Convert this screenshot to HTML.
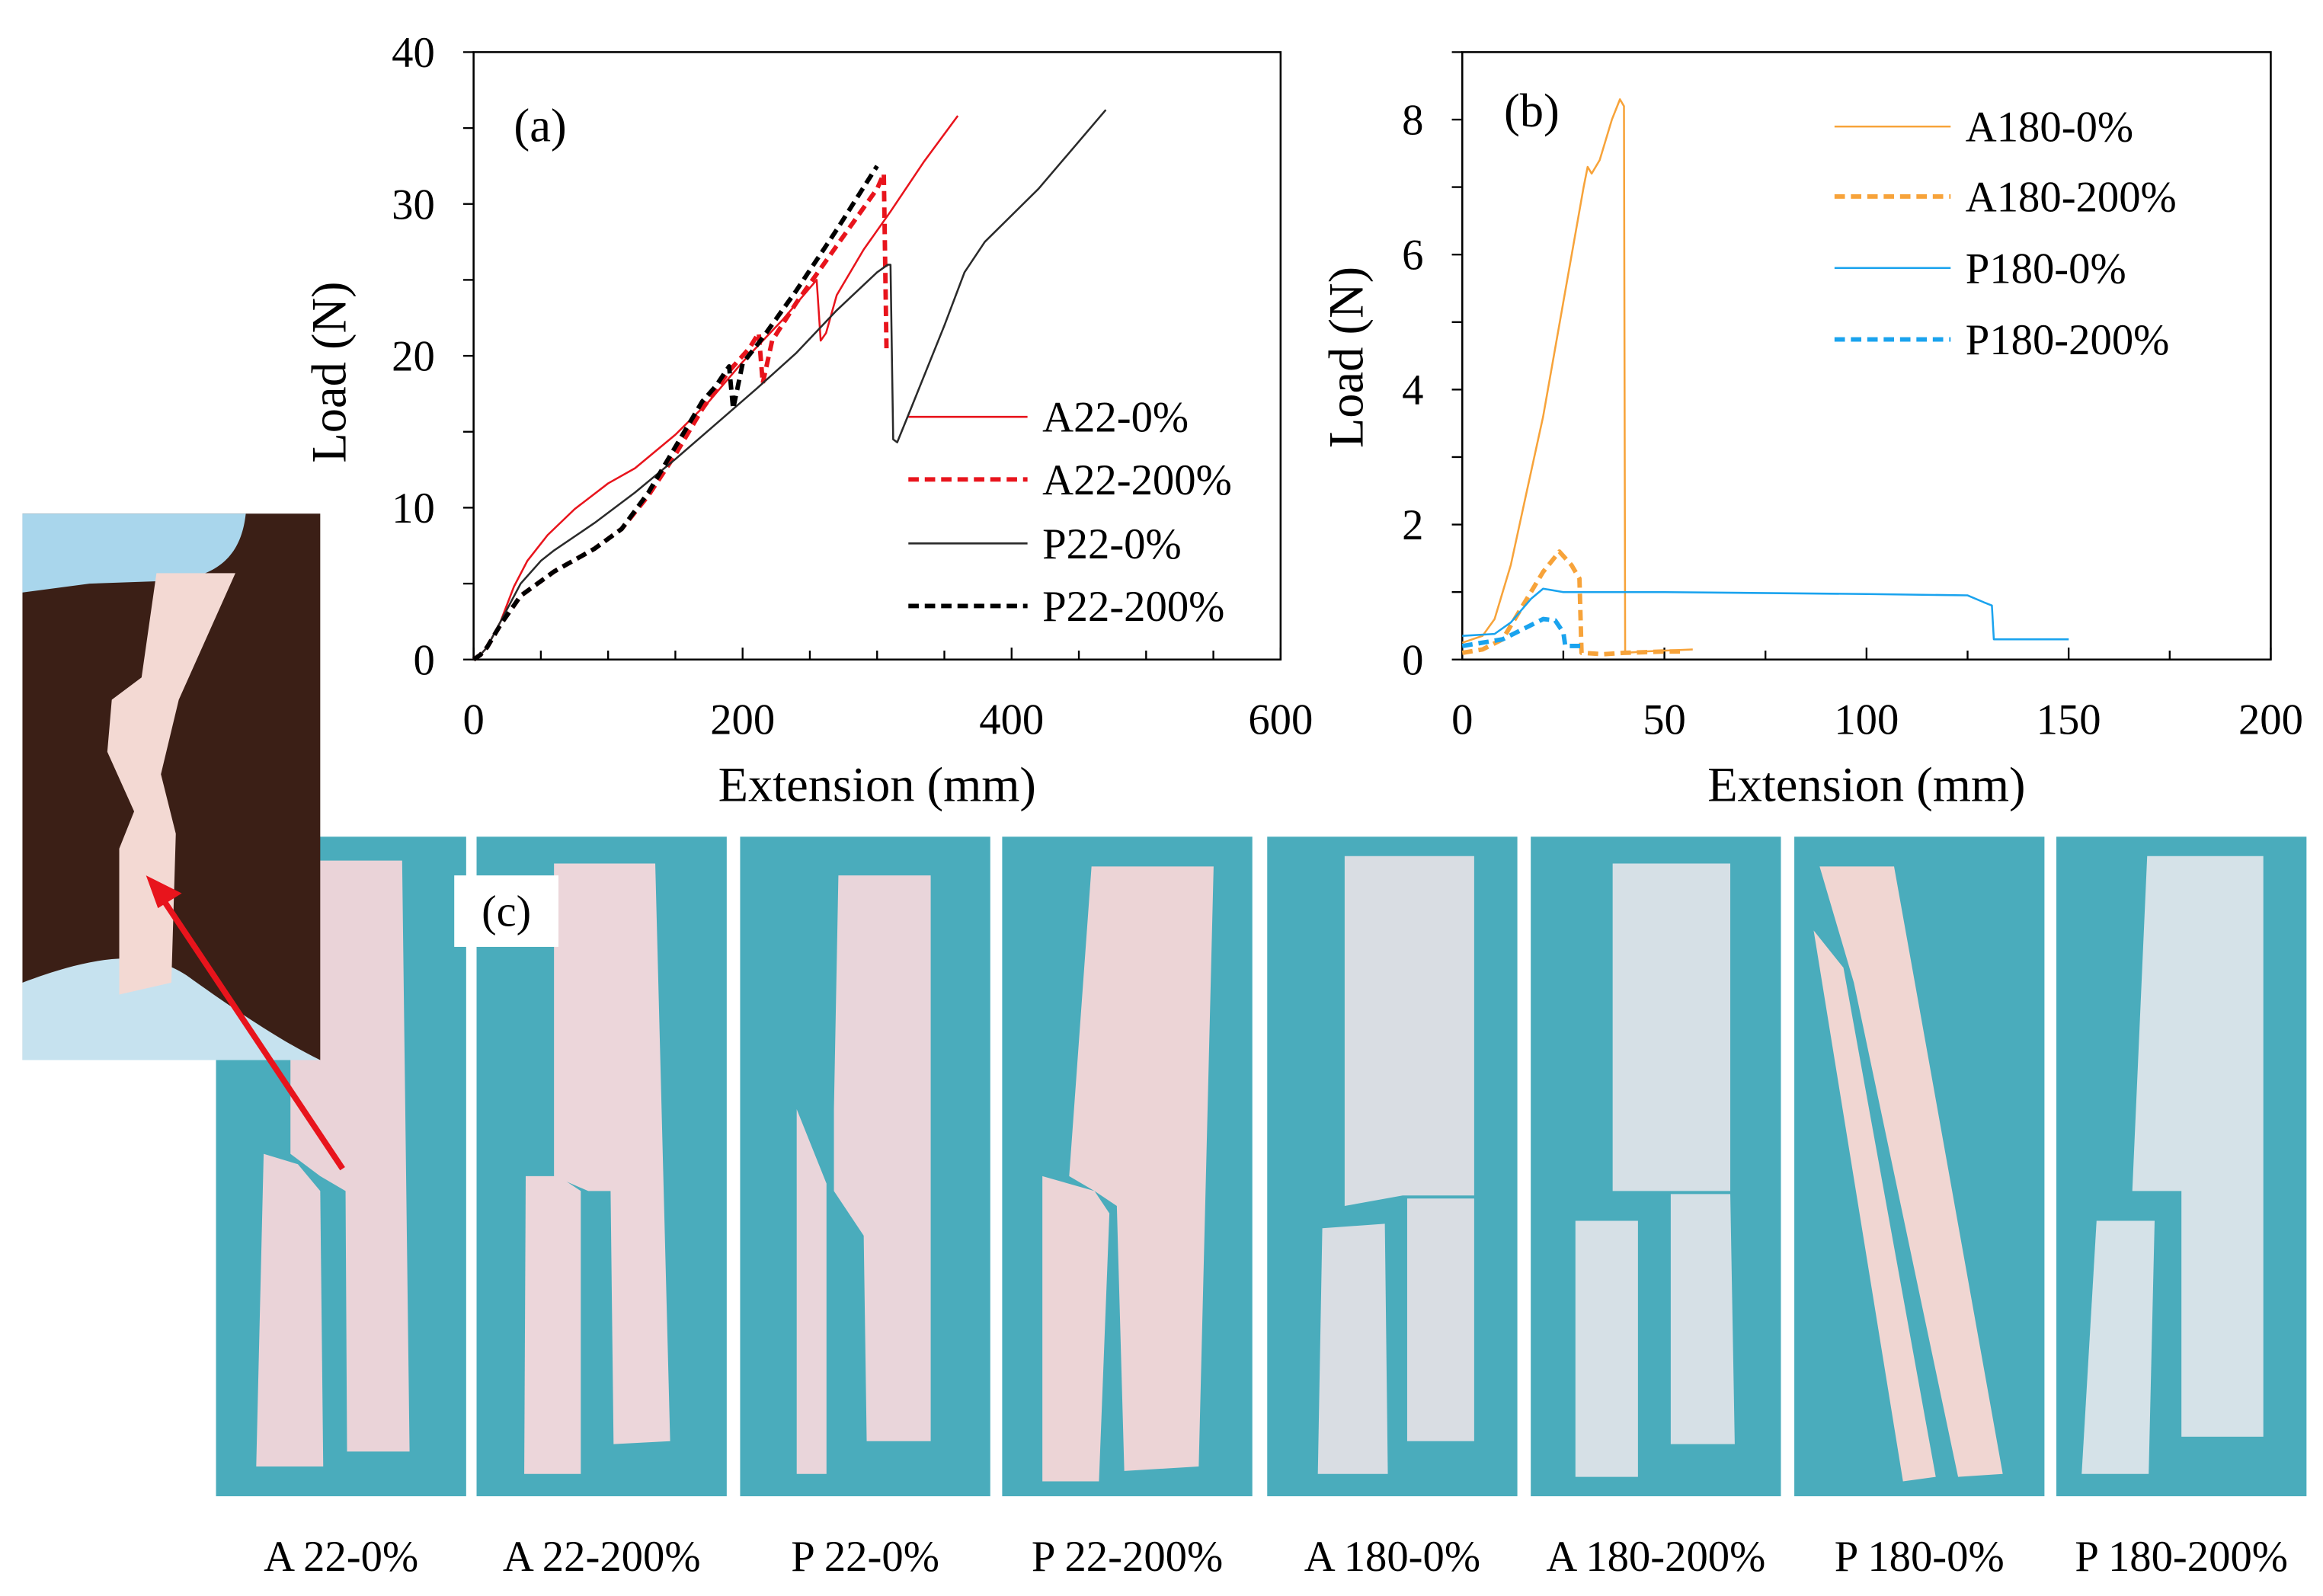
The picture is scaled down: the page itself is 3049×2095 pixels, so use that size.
<!DOCTYPE html>
<html><head><meta charset="utf-8"><style>
html,body{margin:0;padding:0;background:#fff;}
svg{display:block;}
text{font-family:"Liberation Serif","Times New Roman",serif;fill:#000;}
</style></head><body>
<svg id="fig" width="3049" height="2095" viewBox="0 0 1560 1072" font-family="Liberation Serif, serif" xmlns="http://www.w3.org/2000/svg">
<!-- panels -->
<g id="panels"></g>
<!-- inset photo -->
<g>
<rect x="15" y="345" width="200" height="367" fill="#3b1f16"/>
<path d="M15,345 L165,345 C162,372 148,386 118,390 L60,392 L15,398 Z" fill="#a9d6ec"/>
<path d="M15,660 C55,645 95,635 125,655 C160,680 190,700 215,712 L15,712 Z" fill="#c6e2ef"/>
<polygon points="105,385 158,385 120,470 108,520 118,560 115,660 80,668 80,570 90,545 72,505 75,470 95,455" fill="#f3d9d3"/>
</g>
<!-- arrow -->
<g>
<line x1="230" y1="785" x2="108" y2="602" stroke="#e8141c" stroke-width="4"/>
<polygon points="98,588 122,600 106,610" fill="#e8141c"/>
</g>
<rect x="305" y="588" width="70" height="48" fill="#fff"/>
<text x="340" y="622" font-size="30" text-anchor="middle">(c)</text>
<g id="chartA"></g>
<g id="chartB"></g>
</svg>
<script>
const NS="http://www.w3.org/2000/svg";
function mk(tag,attrs,parent,txt){const e=document.createElementNS(NS,tag);for(const k in attrs)e.setAttribute(k,attrs[k]);if(txt!==undefined)e.textContent=txt;parent.appendChild(e);return e;}

// ---- chart (a) data ----
const aXTicks=[0,200,400,600];
const aYTicks=[0,10,20,30,40];
const aNames=["A22-0%","A22-200%","P22-0%","P22-200%"];
const aA0x=[0,5,10,20,30,40,55,75,100,120,150,175,200,230,255,258,262,270,290,310,335,360];
const aA0y=[0,0.3,0.8,2.5,4.8,6.5,8.2,9.9,11.6,12.6,14.8,17,19.6,22.4,25,21,21.5,24,27,29.5,32.8,35.8];
const aA2x=[0,5,10,20,35,60,90,110,130,150,170,190,205,212,215,222,240,260,280,300,305,307];
const aA2y=[0,0.3,0.8,2.3,4.2,5.8,7.3,8.6,10.8,13.5,16.5,19,20.5,21.5,18.2,21,23.5,26,28.5,31,32,20.5];
const aP0x=[0,5,10,20,35,50,60,90,120,150,180,210,240,270,300,308,310,312,315,325,350,365,380,420,470];
const aP0y=[0,0.3,0.8,2.5,5,6.5,7.2,9,11,13.2,15.5,17.8,20.2,23,25.5,26,26,14.5,14.3,16.5,22,25.5,27.5,31,36.2];
const aP2x=[0,5,10,20,35,60,90,110,130,150,170,180,190,193,200,215,240,270,300];
const aP2y=[0,0.3,0.8,2.3,4.2,5.8,7.3,8.6,11,14,17,18,19.3,16.5,19.5,21.2,24.3,28.3,32.5];

// ---- chart (b) data ----
const bXTicks=[0,50,100,150,200];
const bYTicks=[0,2,4,6,8];
const bNames=["A180-0%","A180-200%","P180-0%","P180-200%"];
const bA0x=[0,5,8,12,16,20,25,30,31,32,34,37,39,40,40.3,45,57];
const bA0y=[0.25,0.35,0.6,1.4,2.5,3.6,5.3,7,7.3,7.2,7.4,8,8.3,8.2,0.1,0.12,0.15];
const bA2x=[0,5,10,15,20,24,27,29,29.5,35,40,50,55];
const bA2y=[0.1,0.15,0.3,0.8,1.3,1.6,1.4,1.2,0.1,0.08,0.1,0.12,0.12];
const bP0x=[0,8,12,17,20,25,50,100,125,129,131,131.5,150];
const bP0y=[0.35,0.38,0.55,0.9,1.05,1.0,1.0,0.97,0.95,0.85,0.8,0.3,0.3];
const bP2x=[0,10,15,20,23,25,25.5,30];
const bP2y=[0.2,0.3,0.45,0.6,0.58,0.4,0.2,0.2];

function chart(g,cfg){
  const sx=v=>cfg.x0+(v-cfg.xmin)/(cfg.xmax-cfg.xmin)*(cfg.x1-cfg.x0);
  const sy=v=>cfg.y0-(v)/(cfg.ymax)*(cfg.y0-cfg.y1);
  const fr=mk('rect',{x:cfg.x0,y:cfg.y1,width:cfg.x1-cfg.x0,height:cfg.y0-cfg.y1,fill:'none',stroke:'#000','stroke-width':1.3},g);
  
  
  for(let v=cfg.xmin;v<=cfg.xmax+1e-9;v+=cfg.xminor){
    const major=cfg.xticks.some(t=>Math.abs(t-v)<1e-9);
    const t=mk('line',{x1:sx(v),x2:sx(v),y1:cfg.y0,y2:cfg.y0-(major?8:6),stroke:'#000','stroke-width':1.2},g);
    
    
  }
  for(let v=0;v<=cfg.ymax+1e-9;v+=cfg.yminor){
    const t=mk('line',{x1:cfg.x0-7,x2:cfg.x0,y1:sy(v),y2:sy(v),stroke:'#000','stroke-width':1.2},g);
    
    
  }
  cfg.xticks.forEach(v=>{const t=mk('text',{x:sx(v),y:cfg.y0+50,'font-size':29,'text-anchor':'middle'},g,String(v));
    
    });
  cfg.yticks.forEach(v=>{const t=mk('text',{x:cfg.x0-26,y:sy(v)+10,'font-size':29,'text-anchor':'end'},g,String(v));
    
    });
  const xt=mk('text',{x:(cfg.x0+cfg.x1)/2,y:cfg.y0+95,'font-size':33,'text-anchor':'middle'},g,'Extension (mm)');
  
  
  const yt=mk('text',{x:0,y:0,'font-size':33,'text-anchor':'middle',transform:`translate(${cfg.ytx},${cfg.yty}) rotate(-90)`},g,'Load (N)');
  
  
  const pl=mk('text',{x:cfg.px,y:cfg.py,'font-size':32},g,cfg.plabel);
  
  
  cfg.series.forEach((s,i)=>{
    const pts=s.x.map((v,j)=>sx(v).toFixed(1)+','+sy(s.y[j]).toFixed(1)).join(' ');
    const p=mk('polyline',{points:pts,fill:'none',stroke:s.c,'stroke-width':s.w,'stroke-dasharray':s.d||'none','stroke-linejoin':'round'},g);
    
    
    const ly=cfg.ly[i];
    const ll=mk('line',{x1:cfg.lx0,x2:cfg.lx1,y1:ly,y2:ly,stroke:s.c,'stroke-width':s.w,'stroke-dasharray':s.d||'none'},g);
    
    
    const lt=mk('text',{x:cfg.lx1+10,y:ly+10,'font-size':29},g,s.n);
    
    
  });
}
chart(document.getElementById('chartA'),{x0:318,x1:860,y0:443,y1:35,xmin:0,xmax:600,ymax:40,xminor:50,yminor:5,
  xticks:aXTicks,yticks:aYTicks,ytx:232,yty:250,px:345,py:95,plabel:'(a)',lx0:610,lx1:690,ly:[280,322,365,407],
  series:[{n:aNames[0],x:aA0x,y:aA0y,c:'#e8141c',w:1.3},{n:aNames[1],x:aA2x,y:aA2y,c:'#e8141c',w:3,d:'7,4'},
          {n:aNames[2],x:aP0x,y:aP0y,c:'#2a2a2a',w:1.3},{n:aNames[3],x:aP2x,y:aP2y,c:'#000',w:3,d:'7,4'}]});
chart(document.getElementById('chartB'),{x0:982,x1:1525,y0:443,y1:35,xmin:0,xmax:200,ymax:9,xminor:25,yminor:1,
  xticks:bXTicks,yticks:bYTicks,ytx:915,yty:240,px:1010,py:85,plabel:'(b)',lx0:1232,lx1:1310,ly:[85,132,180,228],
  series:[{n:bNames[0],x:bA0x,y:bA0y,c:'#f7a33a',w:1.3},{n:bNames[1],x:bA2x,y:bA2y,c:'#f7a33a',w:3,d:'7,4'},
          {n:bNames[2],x:bP0x,y:bP0y,c:'#1aa3ee',w:1.3},{n:bNames[3],x:bP2x,y:bP2y,c:'#1aa3ee',w:3,d:'7,4'}]});

// ---- specimen photos ----
const panelX=[145,320,497,673,851,1028,1205,1381];
const panelLabels=["A 22-0%","A 22-200%","P 22-0%","P 22-200%","A 180-0%","A 180-200%","P 180-0%","P 180-200%"];
const panelStrips=[
 ["195,578 270,578 275,975 233,975 232,800 215,790 195,775","177,775 200,782 215,800 217,985 172,985"],
 ["372,580 440,580 450,968 412,970 410,800 395,800 372,790","353,790 375,790 390,800 390,990 352,990"],
 ["563,588 625,588 625,968 582,968 580,830 560,800 560,745","535,745 555,795 555,990 535,990"],
 ["733,582 815,582 805,985 755,988 750,810 735,800 718,790","700,790 735,800 745,815 738,995 700,995"],
 ["903,575 990,575 990,803 942,803 903,810","888,825 930,822 932,990 885,990","945,805 990,805 990,968 945,968"],
 ["1083,580 1162,580 1162,800 1083,800","1058,820 1100,820 1100,992 1058,992","1122,802 1162,802 1165,970 1122,970"],
 ["1218,625 1238,650 1300,992 1278,995","1222,582 1272,582 1345,990 1315,992 1245,660"],
 ["1442,575 1520,575 1520,965 1465,965 1465,800 1432,800","1408,820 1447,820 1443,990 1398,990"]
];
const stripColors=["#ead3d8","#ecd6da","#e9d5da","#ecd4d6","#d9dde3","#d6e0e6","#f0d6d2","#d5e2e8"];
const pg=document.getElementById('panels');
panelX.forEach((x,i)=>{
  const r=mk('rect',{x:x,y:562,width:168,height:443,fill:'#4aacbc'},pg);
  
  
  panelStrips[i].forEach(p=>{const s=mk('polygon',{points:p,fill:stripColors[i]},pg);
    
    });
  const t=mk('text',{x:x+84,y:1055,'font-size':29,'text-anchor':'middle'},pg,panelLabels[i]);
  
  
});
</script>
</body></html>
